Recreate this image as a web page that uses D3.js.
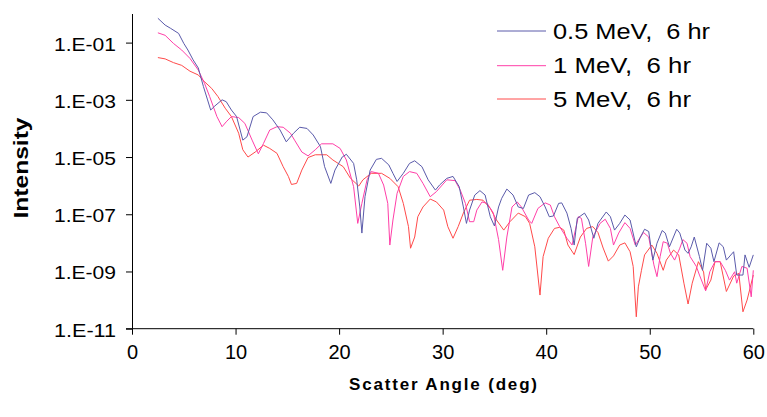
<!DOCTYPE html>
<html>
<head>
<meta charset="utf-8">
<script src="https://cdn.jsdelivr.net/npm/d3@7"></script>
<style>
  html, body { margin: 0; padding: 0; background: #ffffff; }
  svg { display: block; }
  text { font-family: "Liberation Sans", Arial, sans-serif; fill: #000; }
</style>
</head>
<body>
<svg id="chart" width="767" height="417"></svg>
<script>
// ---- Data ----
const seriesNames = ["0.5 MeV,  6 hr", "1 MeV,  6 hr", "5 MeV,  6 hr"];
const seriesColors = ["#5a5aaa", "#ff3fa8", "#ff4a4a"];
const xTicks = [0, 10, 20, 30, 40, 50, 60];
const yTicks = [1e-11, 1e-9, 1e-7, 1e-5, 1e-3, 1e-1];
const yTickLabels = ["1.E-11", "1.E-09", "1.E-07", "1.E-05", "1.E-03", "1.E-01"];

const angles05 = [2.5,3.2,3.7,4.5,5.0,5.4,5.9,6.4,6.9,7.3,7.6,8.0,8.7,9.1,9.6,10.1,10.7,11.1,11.7,12.4,13.0,13.6,14.3,14.9,15.6,16.2,16.9,17.5,18.2,18.6,19.2,19.6,20.3,20.7,21.4,21.7,22.0,22.2,22.5,23.0,23.6,24.1,24.8,25.2,25.6,26.2,26.8,27.3,28.0,28.6,29.3,29.7,30.4,31.0,31.6,32.0,32.3,32.6,33.1,33.6,34.1,34.6,35.0,35.4,35.7,36.2,36.8,37.3,37.8,38.3,38.9,39.4,39.9,40.3,40.7,41.2,41.5,42.0,42.4,42.7,43.0,43.7,44.1,44.6,45.0,45.8,46.2,46.6,47.1,47.6,48.1,48.7,49.1,49.5,49.9,50.3,50.7,51.2,51.5,51.9,52.6,52.9,53.4,53.7,54.0,54.3,54.8,55.1,55.5,55.9,56.2,56.7,57.1,57.4,58.1,58.4,59.0,59.2,59.6,60.0];
const intensity05 = [7.1e-1,4.1e-1,3.2e-1,2.1e-1,9.4e-2,5.5e-2,2.5e-2,1.3e-2,2.9e-3,9.9e-4,4.4e-4,6.1e-4,1.0e-3,8.6e-4,4.4e-4,2.6e-4,3.9e-5,5.1e-5,2.6e-4,3.7e-4,3.5e-4,2.0e-4,8.8e-5,3.4e-5,6.8e-5,1.1e-4,1.0e-4,5.9e-5,2.3e-5,4.6e-6,1.2e-6,3.5e-6,1.0e-5,1.25e-5,6.0e-6,1.6e-6,1.8e-7,2.2e-8,4.1e-7,3.5e-6,8.3e-6,9.0e-6,5.3e-6,2.7e-6,1.4e-6,2.7e-6,6.0e-6,7.4e-6,4.6e-6,1.6e-6,7.0e-7,1.05e-6,1.8e-6,2.1e-6,9.2e-7,1.8e-7,4.8e-8,1.4e-7,4.7e-7,6.7e-7,4.7e-7,8.2e-8,3.9e-8,1.8e-7,3.6e-7,7.6e-7,4.7e-7,1.8e-7,1.6e-7,4.7e-7,5.7e-7,4.1e-7,1.8e-7,8.2e-8,8.7e-8,2.4e-7,2.5e-7,1.1e-7,3.2e-8,8.4e-9,7.2e-8,1.1e-7,6.3e-8,1.45e-8,4.8e-8,1.2e-7,8.2e-8,2.8e-8,4.8e-8,9.4e-8,6.3e-8,7.3e-9,1.6e-8,3.0e-8,2.5e-8,2.5e-9,9.7e-9,2.7e-8,2.2e-8,7.3e-9,3.0e-8,2.2e-8,5.6e-9,4.3e-9,7.3e-9,1.6e-8,3.3e-9,1.1e-9,9.7e-9,6.5e-9,2.2e-9,1.0e-8,7.3e-9,2.5e-9,4.9e-9,7.5e-10,7.5e-10,3.8e-9,1.4e-9,3.8e-9];

const angles1 = [2.5,3.2,4.0,4.8,5.6,6.4,7.0,7.5,8.2,8.7,9.1,9.6,10.3,10.9,11.6,12.2,12.7,13.3,14.0,14.6,15.3,15.7,16.4,17.0,17.7,18.3,19.4,20.1,20.7,21.4,21.8,22.2,22.7,23.1,23.8,24.3,24.7,24.9,25.2,25.6,26.2,26.8,27.5,28.1,28.8,29.4,30.4,31.2,31.7,32.2,32.6,33.0,33.3,33.8,34.3,34.9,35.4,35.8,36.2,36.7,37.2,37.6,38.3,38.6,39.2,39.9,40.4,40.8,41.3,42.0,42.5,43.1,43.4,43.8,44.1,44.5,45.2,45.7,46.2,46.5,47.0,47.6,48.1,48.6,49.4,49.9,50.4,50.7,51.0,51.3,51.7,52.0,52.4,52.9,53.2,53.6,53.9,54.5,54.8,55.4,55.8,56.3,56.8,57.3,57.7,58.2,58.4,58.9,59.4,59.8,60.0];
const intensity1 = [2.2e-1,1.8e-1,9.4e-2,5.5e-2,2.8e-2,1.1e-2,3.8e-3,1.3e-3,2.6e-4,1.15e-4,1.7e-4,2.6e-4,2.4e-4,1.5e-4,3.9e-5,1.3e-5,3.0e-5,8.8e-5,1.15e-4,1.1e-4,6.8e-5,3.9e-5,1.5e-5,1.1e-5,1.8e-5,2.9e-5,2.9e-5,2.0e-5,7.9e-6,9.2e-7,4.8e-8,2.4e-7,1.6e-6,3.1e-6,2.7e-6,1.05e-6,2.4e-7,8.4e-9,6.3e-8,5.4e-7,2.1e-6,3.1e-6,2.7e-6,1.2e-6,4.1e-7,6.2e-7,1.6e-6,1.5e-6,7.0e-7,2.4e-7,5.5e-8,5.5e-8,1.4e-7,2.7e-7,2.4e-7,1.1e-7,1.3e-8,1.1e-9,1.6e-8,1.8e-7,2.7e-7,1.8e-7,6.3e-8,4.8e-8,1.6e-7,2.5e-7,2.1e-7,8.2e-8,3.7e-8,1.45e-8,8.4e-9,8.2e-8,7.2e-8,9.7e-9,1.5e-9,1.6e-8,4.8e-8,6.7e-8,3.2e-8,8.4e-9,2.2e-8,5.1e-8,3.2e-8,8.4e-9,2.3e-8,1.6e-8,1.7e-9,6.6e-10,3.3e-9,1.1e-8,9.7e-9,4.3e-9,2.5e-9,6.5e-9,1.3e-8,9.7e-9,3.3e-9,1.5e-9,7.5e-10,2.1e-10,9.8e-10,2.2e-9,2.2e-9,1.1e-9,5.0e-10,9.8e-10,3.9e-10,1.5e-9,1.3e-9,1.3e-10,1.1e-9];

const angles5 = [2.5,3.2,4.0,4.8,5.6,6.4,7.0,7.7,8.3,9.0,9.6,10.3,10.7,11.2,11.9,12.7,13.3,14.0,14.6,15.1,15.4,15.9,16.4,17.0,17.7,18.8,19.4,20.4,21.1,21.9,22.3,23.1,24.1,24.9,25.7,26.2,26.7,26.9,27.3,27.6,28.1,28.8,29.4,30.1,30.5,31.0,31.5,32.0,32.6,33.3,33.9,34.6,35.2,35.9,36.5,37.3,38.0,38.4,38.9,39.4,39.7,40.2,40.8,41.3,41.7,42.1,42.7,43.3,43.9,44.5,45.0,45.5,46.0,46.5,47.1,47.6,48.1,48.4,48.7,48.9,49.2,49.5,50.2,50.7,51.3,51.6,52.3,52.8,53.3,53.7,54.1,54.7,55.2,55.4,55.9,56.3,56.8,57.4,58.1,58.6,59.0,59.4,60.0];
const intensity5 = [3.0e-2,2.7e-2,2.0e-2,1.6e-2,1.0e-2,7.4e-3,4.3e-3,2.5e-3,1.3e-3,5.1e-4,2.6e-4,6.8e-5,1.8e-5,1.0e-5,1.5e-5,2.6e-5,2.0e-5,1.35e-5,4.6e-6,2.1e-6,1.1e-6,1.2e-6,3.5e-6,9.6e-6,1.2e-5,1.2e-5,7.9e-6,4.6e-6,1.8e-6,9.7e-7,1.6e-6,2.7e-6,2.7e-6,1.8e-6,9.2e-7,2.4e-7,3.7e-8,6.5e-9,1.6e-8,8.2e-8,1.8e-7,3.4e-7,2.7e-7,1.4e-7,3.7e-8,1.45e-8,3.7e-8,1.1e-7,3.1e-7,3.3e-7,3.1e-7,1.6e-7,6.3e-8,2.8e-8,5.5e-8,1.1e-7,8.2e-8,4.8e-8,7.3e-9,1.5e-10,3.3e-9,1.45e-8,3.2e-8,3.5e-8,2.8e-8,8.4e-9,3.9e-9,1.6e-8,3.2e-8,3.7e-8,2.3e-8,6.6e-9,2.3e-9,3.5e-9,8.4e-9,1.0e-8,4.9e-9,1.5e-9,2.6e-11,2.9e-10,1.1e-9,3.8e-9,8.4e-9,4.3e-9,1.1e-9,2.5e-9,5.6e-9,3.8e-9,3.9e-10,7.3e-11,3.9e-10,2.2e-9,9.6e-10,2.3e-10,5.0e-10,2.2e-9,2.2e-9,2.0e-10,6.9e-10,8.6e-10,3.9e-11,1.0e-10,7.5e-10];

const xLabel = "Scatter Angle (deg)";
const yLabel = "Intensity";

// ---- Build ----
const series = [
  { name: seriesNames[0], color: seriesColors[0], pts: d3.zip(angles05, intensity05) },
  { name: seriesNames[1], color: seriesColors[1], pts: d3.zip(angles1, intensity1) },
  { name: seriesNames[2], color: seriesColors[2], pts: d3.zip(angles5, intensity5) }
];

const svg = d3.select("#chart");
const x = d3.scaleLinear().domain([0, 60]).range([132, 753.3]);
const y = d3.scaleLog().domain([1e-11, 1]).range([328.7, 14]);

const line = d3.line().x(d => x(d[0])).y(d => y(d[1]));

[2, 1, 0].forEach(i => {
  svg.append("path")
    .datum(series[i].pts)
    .attr("fill", "none")
    .attr("stroke", series[i].color)
    .attr("stroke-width", 1)
    .attr("stroke-linejoin", "round")
    .attr("d", line);
});

// y axis
const yAxis = d3.axisLeft(y).tickValues(yTicks).tickSize(6).tickFormat("");
const gy = svg.append("g").attr("transform", "translate(132,0)").call(yAxis);
gy.select(".domain").attr("stroke", "#000").attr("d", "M0.5," + y(1) + "V" + y(1e-11));
gy.selectAll(".tick line").attr("stroke", "#000");

gy.selectAll(".tick").append("text")
  .data(yTickLabels)
  .attr("x", -16)
  .attr("y", 7.5)
  .attr("text-anchor", "end")
  .attr("font-size", 18.5)
  .attr("textLength", 62)
  .attr("lengthAdjust", "spacingAndGlyphs")
  .attr("fill", "#000")
  .text(d => d);

// x axis
const xAxis = d3.axisBottom(x).tickValues(xTicks).tickSize(6).tickFormat("");
const gx = svg.append("g").attr("transform", "translate(0,328.7)").call(xAxis);
gx.select(".domain").attr("stroke", "#000").attr("d", "M126,0H" + x(60));
gx.selectAll(".tick line").attr("stroke", "#000");
gx.selectAll(".tick").append("text")
  .attr("y", 30)
  .attr("text-anchor", "middle")
  .attr("font-size", 20)
  .attr("fill", "#000")
  .text(d => d);

// axis titles
svg.append("text")
  .attr("x", 443)
  .attr("y", 390)
  .attr("text-anchor", "middle")
  .attr("font-size", 17)
  .attr("font-weight", "bold")
  .attr("textLength", 188)
  .attr("lengthAdjust", "spacing")
  .text(xLabel);

svg.append("text")
  .attr("transform", "translate(28,168) rotate(-90)")
  .attr("text-anchor", "middle")
  .attr("font-size", 20)
  .attr("font-weight", "bold")
  .attr("textLength", 101)
  .attr("lengthAdjust", "spacingAndGlyphs")
  .text(yLabel);

// legend
const legendLens = [157, 138, 138];
const legendY = [31, 65.7, 99];
series.forEach((s, i) => {
  const g = svg.append("g").attr("transform", "translate(0," + legendY[i] + ")");
  g.append("line").attr("x1", 497).attr("x2", 546).attr("y1", 0).attr("y2", 0)
    .attr("stroke", s.color).attr("stroke-width", 1);
  g.append("text").attr("x", 553).attr("y", 7.5)
    .attr("font-size", 22)
    .attr("textLength", legendLens[i])
    .attr("lengthAdjust", "spacingAndGlyphs")
    .style("white-space", "pre")
    .text(s.name);
});
</script>
</body>
</html>
